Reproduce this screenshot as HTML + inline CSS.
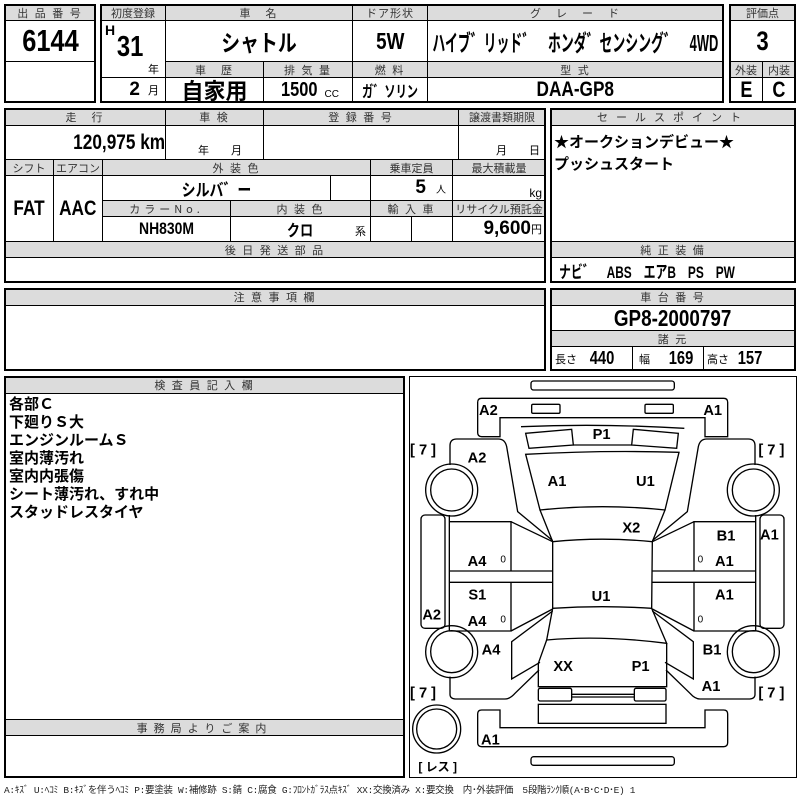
<!DOCTYPE html>
<html><head><meta charset="utf-8">
<style>
*{margin:0;padding:0;box-sizing:border-box}
body{width:800px;height:800px;background:#fff;position:relative;overflow:hidden;font-family:"Liberation Sans","Noto Sans CJK JP",sans-serif;color:#000}
.c,.h{position:absolute;border:1px solid #000;display:flex;align-items:center;justify-content:center;white-space:nowrap}
.h{background:#dcdcdc;font-size:11px;color:#333;letter-spacing:2px;font-family:"Noto Sans CJK JP",sans-serif}
.v{font-family:"Liberation Sans","Noto Sans CJK JP",sans-serif;font-weight:bold}
.n{display:inline-block;transform:scaleX(.82)}
.f{position:absolute;border:2px solid #000}
.t{position:absolute;white-space:nowrap}
</style></head><body>

<!-- Box1 -->
<div class="h" style="left:4px;top:4px;width:92px;height:17px">出 品 番 号</div>
<div class="c v" style="left:4px;top:20px;width:92px;height:42px;font-size:31px"><span class="n">6144</span></div>
<div class="c" style="left:4px;top:61px;width:92px;height:42px"></div>
<div class="f" style="left:4px;top:4px;width:92px;height:99px"></div>

<!-- Box2 -->
<div class="h" style="left:100px;top:4px;width:66px;height:17px;letter-spacing:0">初度登録</div>
<div class="h" style="left:165px;top:4px;width:188px;height:17px">車　名</div>
<div class="h" style="left:352px;top:4px;width:76px;height:17px;letter-spacing:1px">ドア形状</div>
<div class="h" style="left:427px;top:4px;width:297px;height:17px">グ　レ　ー　ド</div>
<div class="c" style="left:100px;top:20px;width:66px;height:58px"></div>
<div class="t v" style="left:105px;top:22px;font-size:14px">H</div>
<div class="t v" style="left:114px;top:31px;font-size:29px"><span class="n">31</span></div>
<div class="t" style="left:148px;top:61px;font-size:11px">年</div>
<div class="c v" style="left:165px;top:20px;width:188px;height:42px;font-size:23px"><span class="n">シャトル</span></div>
<div class="c v" style="left:352px;top:20px;width:76px;height:42px;font-size:23px"><span class="n">5W</span></div>
<div class="c v" style="left:427px;top:20px;width:297px;height:42px;font-size:23px;overflow:hidden"><span style="display:inline-block;transform:scaleX(.56)">ハイブ゛リッド゛　ホンダ゛センシング゛　4WD</span></div>
<div class="h" style="left:165px;top:61px;width:99px;height:17px">車　歴</div>
<div class="h" style="left:263px;top:61px;width:90px;height:17px">排 気 量</div>
<div class="h" style="left:352px;top:61px;width:76px;height:17px">燃 料</div>
<div class="h" style="left:427px;top:61px;width:297px;height:17px">型 式</div>
<div class="c" style="left:100px;top:77px;width:66px;height:26px;justify-content:flex-end;padding-right:6px"><span class="v" style="font-size:19px">2</span><span style="font-size:11px;margin-left:8px">月</span></div>
<div class="c v" style="left:165px;top:77px;width:99px;height:26px;font-size:22px">自家用</div>
<div class="c" style="left:263px;top:77px;width:90px;height:26px"><span class="v n" style="font-size:20px">1500</span><span style="font-size:10px;margin-left:3px;margin-top:8px">CC</span></div>
<div class="c v" style="left:352px;top:77px;width:76px;height:26px;font-size:16px;overflow:hidden"><span style="display:inline-block;transform:scaleX(.7)">ガ゛ソリン</span></div>
<div class="c v" style="left:427px;top:77px;width:297px;height:26px;font-size:21px"><span class="n">DAA-GP8</span></div>
<div class="f" style="left:100px;top:4px;width:624px;height:99px"></div>

<!-- Box3 -->
<div class="h" style="left:729px;top:4px;width:67px;height:17px;letter-spacing:0">評価点</div>
<div class="c v" style="left:729px;top:20px;width:67px;height:42px;font-size:27px"><span class="n">3</span></div>
<div class="h" style="left:729px;top:61px;width:34px;height:17px;letter-spacing:0">外装</div>
<div class="h" style="left:762px;top:61px;width:34px;height:17px;letter-spacing:0">内装</div>
<div class="c v" style="left:729px;top:77px;width:34px;height:26px;font-size:22px"><span class="n">E</span></div>
<div class="c v" style="left:762px;top:77px;width:34px;height:26px;font-size:22px"><span class="n">C</span></div>
<div class="f" style="left:729px;top:4px;width:67px;height:99px"></div>

<!-- Block2 -->
<div class="h" style="left:4px;top:108px;width:162px;height:18px">走　行</div>
<div class="h" style="left:165px;top:108px;width:99px;height:18px">車 検</div>
<div class="h" style="left:263px;top:108px;width:196px;height:18px">登 録 番 号</div>
<div class="h" style="left:458px;top:108px;width:88px;height:18px;letter-spacing:0">譲渡書類期限</div>
<div class="c v" style="left:4px;top:125px;width:162px;height:35px;font-size:21px;justify-content:flex-end;padding-right:0"><span class="n" style="transform-origin:right">120,975 km</span></div>
<div class="c" style="left:165px;top:125px;width:99px;height:35px;align-items:flex-end;font-size:11px;padding-bottom:1px">　年　　月</div>
<div class="c" style="left:263px;top:125px;width:196px;height:35px"></div>
<div class="c" style="left:458px;top:125px;width:88px;height:35px;align-items:flex-end;justify-content:flex-end;font-size:11px;padding:0 5px 1px 0">月　　日</div>
<div class="h" style="left:4px;top:159px;width:50px;height:17px;letter-spacing:0">シフト</div>
<div class="h" style="left:53px;top:159px;width:50px;height:17px;letter-spacing:0">エアコン</div>
<div class="h" style="left:102px;top:159px;width:269px;height:17px">外 装 色</div>
<div class="h" style="left:370px;top:159px;width:83px;height:17px;letter-spacing:0">乗車定員</div>
<div class="h" style="left:452px;top:159px;width:94px;height:17px;letter-spacing:0">最大積載量</div>
<div class="c v" style="left:4px;top:175px;width:50px;height:67px;font-size:21px"><span class="n">FAT</span></div>
<div class="c v" style="left:53px;top:175px;width:50px;height:67px;font-size:21px"><span class="n">AAC</span></div>
<div class="c v" style="left:102px;top:175px;width:229px;height:26px;font-size:17px"><span class="n">シルバ゛ー</span></div>
<div class="c" style="left:330px;top:175px;width:41px;height:26px"></div>
<div class="c" style="left:370px;top:175px;width:83px;height:26px;justify-content:flex-end;padding-right:6px"><span class="v" style="font-size:19px">5</span><span style="font-size:10px;margin-left:10px">人</span></div>
<div class="c" style="left:452px;top:175px;width:94px;height:26px;justify-content:flex-end;align-items:flex-end;font-size:12px;padding-right:3px">kg</div>
<div class="h" style="left:102px;top:200px;width:129px;height:17px;letter-spacing:4px">カラーNo.</div>
<div class="h" style="left:230px;top:200px;width:141px;height:17px">内 装 色</div>
<div class="h" style="left:370px;top:200px;width:83px;height:17px">輸 入 車</div>
<div class="h" style="left:452px;top:200px;width:94px;height:17px;letter-spacing:0">リサイクル預託金</div>
<div class="c v" style="left:102px;top:216px;width:129px;height:26px;font-size:17px"><span class="n">NH830M</span></div>
<div class="c" style="left:230px;top:216px;width:141px;height:26px"><span class="v n" style="font-size:16px">クロ</span><span style="position:absolute;right:4px;bottom:2px;font-size:11px">系</span></div>
<div class="c" style="left:370px;top:216px;width:42px;height:26px"></div>
<div class="c" style="left:411px;top:216px;width:42px;height:26px"></div>
<div class="c" style="left:452px;top:216px;width:94px;height:26px;justify-content:flex-end;padding-right:3px"><span class="v" style="font-size:19px">9,600</span><span style="font-size:11px">円</span></div>
<div class="h" style="left:4px;top:241px;width:542px;height:17px">後 日 発 送 部 品</div>
<div class="c" style="left:4px;top:257px;width:542px;height:26px"></div>
<div class="f" style="left:4px;top:108px;width:542px;height:175px"></div>

<div class="h" style="left:550px;top:108px;width:246px;height:18px;letter-spacing:8px">セールスポイント</div>
<div class="c" style="left:550px;top:125px;width:246px;height:117px;display:block;padding:5px 3px;font-size:15px;font-weight:bold;line-height:22px;font-family:'Noto Sans CJK JP',sans-serif">★オークションデビュー★<br>プッシュスタート</div>
<div class="h" style="left:550px;top:241px;width:246px;height:17px">純 正 装 備</div>
<div class="c v" style="left:550px;top:257px;width:246px;height:26px;font-size:17px;justify-content:flex-start;padding-left:8px;overflow:hidden"><span style="display:inline-block;transform:scaleX(.7);transform-origin:left">ナビ゛　ABS　エアB　PS　PW</span></div>
<div class="f" style="left:550px;top:108px;width:246px;height:175px"></div>

<!-- Block3 -->
<div class="h" style="left:4px;top:288px;width:542px;height:18px">注 意 事 項 欄</div>
<div class="c" style="left:4px;top:305px;width:542px;height:66px"></div>
<div class="f" style="left:4px;top:288px;width:542px;height:83px"></div>
<div class="h" style="left:550px;top:288px;width:246px;height:18px">車 台 番 号</div>
<div class="c v" style="left:550px;top:305px;width:246px;height:26px;font-size:23px"><span class="n">GP8-2000797</span></div>
<div class="h" style="left:550px;top:330px;width:246px;height:17px">諸 元</div>
<div class="c" style="left:550px;top:346px;width:83px;height:25px;justify-content:flex-start;padding-left:4px"><span style="font-size:11px">長さ</span><span class="v n" style="font-size:18px;margin-left:10px">440</span></div>
<div class="c" style="left:632px;top:346px;width:72px;height:25px;justify-content:flex-start;padding-left:6px"><span style="font-size:11px">幅</span><span class="v n" style="font-size:18px;margin-left:16px">169</span></div>
<div class="c" style="left:703px;top:346px;width:93px;height:25px;justify-content:flex-start;padding-left:3px"><span style="font-size:11px">高さ</span><span class="v n" style="font-size:18px;margin-left:6px">157</span></div>
<div class="f" style="left:550px;top:288px;width:246px;height:83px"></div>

<!-- Block4 -->
<div class="h" style="left:4px;top:376px;width:401px;height:18px">検 査 員 記 入 欄</div>
<div class="c" style="left:4px;top:393px;width:401px;height:327px;display:block;padding:1px 4px;font-size:15px;font-weight:bold;line-height:18px;font-family:'Noto Sans CJK JP',sans-serif">各部Ｃ<br>下廻りＳ大<br>エンジンルームＳ<br>室内薄汚れ<br>室内内張傷<br>シート薄汚れ、すれ中<br>スタッドレスタイヤ</div>
<div class="h" style="left:4px;top:719px;width:401px;height:17px;letter-spacing:6px">事務局よりご案内</div>
<div class="c" style="left:4px;top:735px;width:401px;height:42px"></div>
<div class="f" style="left:4px;top:376px;width:401px;height:402px"></div>

<div class="f" style="left:409px;top:376px;width:388px;height:402px;border-width:1.5px"></div>

<svg style="position:absolute;left:405px;top:375px" width="395" height="425" viewBox="0 0 1185 1275">
<g fill="none" stroke="#000" stroke-width="4">
<rect x="378" y="18" width="430" height="27" rx="8"/>
<rect x="378" y="1145" width="430" height="26" rx="8"/>
<path d="M230,70 L956,70 Q968,70 968,82 L968,185 L900,185 L900,128 L285,128 L285,185 L230,185 Q218,185 218,173 L218,82 Q218,70 230,70 Z"/>
<rect x="380" y="88" width="85" height="27" rx="4"/>
<rect x="720" y="88" width="85" height="27" rx="4"/>
<path d="M348,155 Q592,145 838,160"/>
<path d="M362,175 L500,163 L505,210 L372,220 Z"/>
<path d="M685,163 L820,175 L815,220 L680,210 Z"/>
<path d="M505,210 L680,210"/>
<path d="M362,238 Q592,225 822,232 L780,405 Q592,385 405,405 Z"/>
<path d="M405,405 L443,500 Q592,485 742,500 L780,405"/>
<path d="M443,500 L443,700 Q592,690 740,700 L742,500"/>
<path d="M443,700 L425,795 Q592,780 785,805 L740,700"/>
<path d="M425,795 L400,865 L400,935 L785,935 L785,805"/>
<rect x="400" y="940" width="100" height="38" rx="5"/>
<rect x="688" y="940" width="95" height="38" rx="5"/>
<path d="M500,958 L688,958 M500,966 L688,966"/>
<rect x="400" y="988" width="383" height="57"/>
<path d="M230,1005 L285,1005 L285,1058 L900,1058 L900,1005 L956,1005 Q968,1005 968,1017 L968,1103 Q968,1115 956,1115 L230,1115 Q218,1115 218,1103 L218,1017 Q218,1005 230,1005 Z"/>
<circle cx="95" cy="1062" r="72"/><circle cx="95" cy="1062" r="60"/>
<g id="L">
<path d="M135,270 L135,212 Q135,192 155,192 L280,192 Q300,192 305,215 L338,410 L443,497"/>
<circle cx="140" cy="345" r="78"/><circle cx="140" cy="345" r="63"/>
<circle cx="140" cy="830" r="78"/><circle cx="140" cy="830" r="63"/>
<path d="M133,420 L133,440 L318,440 L318,588 M318,440 L443,500 M133,588 L443,588 M133,622 L443,622 M318,622 L318,768 L133,768 M318,768 L443,702 M133,440 L133,768"/>
<path d="M443,708 L320,800 L320,912 L405,862"/>
<path d="M135,905 L135,958 Q135,972 155,972 L300,972 Q315,972 330,955 L402,885"/>
<rect x="48" y="420" width="72" height="340" rx="12"/>
</g>
<use href="#L" transform="translate(1185,0) scale(-1,1)"/>
</g>
<g font-family="Liberation Sans, sans-serif" font-weight="bold" font-size="44" fill="#000">
<text x="222" y="120">A2</text><text x="895" y="120">A1</text><text x="563" y="192">P1</text>
<text x="188" y="263">A2</text><text x="428" y="333">A1</text><text x="693" y="333">U1</text>
<text x="652" y="473">X2</text><text x="935" y="497">B1</text><text x="1065" y="493">A1</text>
<text x="188" y="573">A4</text><text x="930" y="573">A1</text>
<text x="190" y="673">S1</text><text x="560" y="678">U1</text><text x="930" y="673">A1</text>
<text x="52" y="733">A2</text><text x="188" y="753">A4</text>
<text x="230" y="838">A4</text><text x="893" y="838">B1</text>
<text x="445" y="888">XX</text><text x="680" y="888">P1</text><text x="890" y="948">A1</text>
<text x="228" y="1108">A1</text>
<text x="15" y="238">[ 7 ]</text><text x="1060" y="238">[ 7 ]</text>
<text x="15" y="968">[ 7 ]</text><text x="1060" y="968">[ 7 ]</text>
</g>
<g font-family="Liberation Sans, sans-serif" font-size="30" fill="#000">
<text x="286" y="563">0</text><text x="878" y="563">0</text>
<text x="286" y="743">0</text><text x="878" y="743">0</text>
</g>
<text x="40" y="1188" font-family="Liberation Sans, Noto Sans CJK JP, sans-serif" font-weight="bold" font-size="36">[ レス ]</text>
</svg>

<div class="t" style="left:4px;top:782px;font-size:9.5px;color:#222;font-family:'Liberation Mono','Noto Sans CJK JP',monospace;letter-spacing:-0.3px">A:ｷｽﾞ U:ﾍｺﾐ B:ｷｽﾞを伴うﾍｺﾐ P:要塗装 W:補修跡 S:錆 C:腐食 G:ﾌﾛﾝﾄｶﾞﾗｽ点ｷｽﾞ XX:交換済み X:要交換　内･外装評価　5段階ﾗﾝｸ順(A･B･C･D･E) 1</div>
</body></html>
